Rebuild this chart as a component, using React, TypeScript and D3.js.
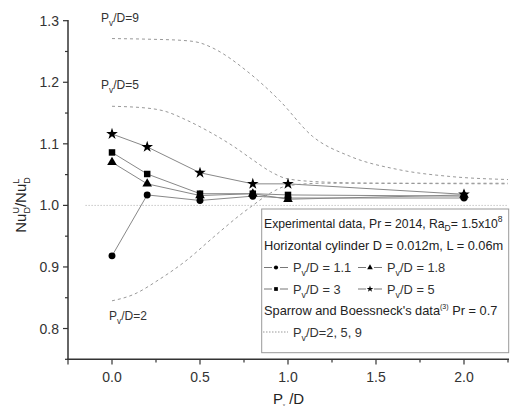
import React from 'react';
import * as d3 from 'd3';

// experimental data
const pvd = [0, 0.2, 0.5, 0.8, 1.0, 2.0];
const pv11 = [0.918, 1.017, 1.008, 1.015, 1.012, 1.012];
const pv18 = [1.070, 1.035, 1.016, 1.019, 1.010, 1.017];
const pv3 = [1.086, 1.051, 1.019, 1.019, 1.017, 1.015];
const pv5 = [1.116, 1.095, 1.053, 1.035, 1.035, 1.018];

// Sparrow and Boessneck curves
const sb9x = [0, 0.2, 0.4, 0.5, 0.57, 0.78, 0.95, 1.14, 1.35, 1.63, 1.92, 2.25];
const sb9y = [1.271, 1.270, 1.268, 1.264, 1.256, 1.215, 1.171, 1.112, 1.080, 1.058, 1.047, 1.042];
const sb5x = [0, 0.2, 0.3, 0.42, 0.55, 0.69, 0.8, 0.9, 1.0, 1.2, 1.5, 2.25];
const sb5y = [1.161, 1.158, 1.153, 1.139, 1.12, 1.096, 1.074, 1.055, 1.043, 1.038, 1.036, 1.035];
const sb2x = [0, 0.12, 0.27, 0.42, 0.575, 0.73, 0.8, 0.9, 1.0, 1.2, 1.5, 2.25];
const sb2y = [0.845, 0.855, 0.880, 0.910, 0.948, 0.985, 1.0, 1.02, 1.032, 1.036, 1.036, 1.036];

const xTicks = [0, 0.5, 1.0, 1.5, 2.0];
const xMinor = [0.25, 0.75, 1.25, 1.75, 2.25];
const yTicks = [0.8, 0.9, 1.0, 1.1, 1.2, 1.3];
const yMinor = [0.75, 0.85, 0.95, 1.05, 1.15, 1.25];

const font = 'Arial, "Liberation Sans", sans-serif';

const x = d3.scaleLinear().domain([-0.25, 2.25]).range([68, 508]);
const y = d3.scaleLinear().domain([0.75, 1.3]).range([359.3, 20.7]);

const line = d3.line<[number, number]>().x(d => x(d[0])).y(d => y(d[1]));
const curve = d3.line<[number, number]>().x(d => x(d[0])).y(d => y(d[1])).curve(d3.curveMonotoneX);

const series = [
  { label: '1.1', vals: pv11, sym: d3.symbolCircle, size: 38 },
  { label: '1.8', vals: pv18, sym: d3.symbolTriangle, size: 40 },
  { label: '3', vals: pv3, sym: d3.symbolSquare, size: 42 },
  { label: '5', vals: pv5, sym: d3.symbolStar, size: 42 },
];

const curves = [
  [sb9x, sb9y],
  [sb5x, sb5y],
  [sb2x, sb2y],
];

const Pv = ({ xx, yy, rest, size = 12 }: any) => (
  <text x={xx} y={yy} fontSize={size} fill="#333" fontFamily={font}>
    P<tspan fontSize={size * 0.7} dy={4}>v</tspan><tspan dy={-4}>{rest}</tspan>
  </text>
);

const LegendSym = ({ cx, cy, sym }: any) => (
  <g>
    <line x1={cx - 12} x2={cx - 4} y1={cy} y2={cy} stroke="#777" strokeWidth={1} />
    <line x1={cx + 4} x2={cx + 12} y1={cy} y2={cy} stroke="#777" strokeWidth={1} />
    <path d={d3.symbol().type(sym).size(14)()!} transform={`translate(${cx},${cy})`} fill="#000" />
  </g>
);

export default function App() {
  const lx = 261.7, ly = 209;
  const lf = 12.8;
  return (
    <svg width={511} height={409} style={{ position: 'absolute', left: 0, top: 0, background: '#fff' }}>
      {/* reference line at 1.0 */}
      <line x1={x(-0.15)} x2={x(2.25)} y1={y(1)} y2={y(1)} stroke="#aaa" strokeWidth={1} strokeDasharray="1,2" />

      {/* Sparrow curves */}
      {curves.map((c, i) => (
        <path key={i} d={curve(c[0].map((v, j) => [v, c[1][j]] as [number, number]))!}
          fill="none" stroke="#999" strokeWidth={1} strokeDasharray="3,3" />
      ))}

      {/* experimental lines */}
      {series.map((s, i) => (
        <path key={i} d={line(pvd.map((v, j) => [v, s.vals[j]] as [number, number]))!}
          fill="none" stroke="#888" strokeWidth={1} />
      ))}
      {series.map((s, i) => (
        <g key={i}>
          {pvd.map((v, j) => (
            <path key={j} d={d3.symbol().type(s.sym).size(s.size)()!}
              transform={`translate(${x(v)},${y(s.vals[j])})`} fill="#000" />
          ))}
        </g>
      ))}

      {/* annotations */}
      <Pv xx={101} yy={22} rest="/D=9" />
      <Pv xx={101} yy={89} rest="/D=5" />
      <Pv xx={109} yy={320} rest="/D=2" />

      {/* legend */}
      <rect x={lx} y={ly} width={247} height={143.7} fill="#fff" stroke="#999" strokeWidth={1} />
      <text x={264} y={228} fontSize={12.2} fill="#222" fontFamily={font}>
        Experimental data, Pr = 2014, Ra<tspan fontSize={8.5} dy={3}>D</tspan><tspan dy={-3}>= 1.5x10</tspan><tspan fontSize={8.5} dy={-6}>8</tspan>
      </text>
      <text x={264} y={249.5} fontSize={lf} fill="#222" fontFamily={font}>Horizontal cylinder D = 0.012m, L = 0.06m</text>
      {series.map((s, i) => {
        const cx = i % 2 === 0 ? 276 : 370;
        const cy = i < 2 ? 267.5 : 289;
        return (
          <g key={i}>
            <LegendSym cx={cx} cy={cy} sym={s.sym} />
            <Pv xx={cx + 17} yy={cy + 4.5} size={lf} rest={`/D = ${s.label}`} />
          </g>
        );
      })}
      <text x={264} y={315} fontSize={lf} fill="#222" fontFamily={font}>
        Sparrow and Boessneck's data<tspan fontSize={7} dy={-6}>(3)</tspan><tspan dy={6}> Pr = 0.7</tspan>
      </text>
      <line x1={263} x2={288} y1={332} y2={332} stroke="#999" strokeWidth={1} strokeDasharray="1.5,1.5" />
      <Pv xx={293} yy={336.5} size={lf} rest="/D=2, 5, 9" />

      {/* axes */}
      <line x1={68} x2={68} y1={20} y2={360} stroke="#333" strokeWidth={1.5} />
      <line x1={67.3} x2={509} y1={359.3} y2={359.3} stroke="#333" strokeWidth={1.5} />
      {yTicks.map(t => (
        <g key={t}>
          <line x1={63} x2={68} y1={y(t)} y2={y(t)} stroke="#333" strokeWidth={1.2} />
          <text x={59} y={y(t) + 5} textAnchor="end" fontSize={14} fill="#333" fontFamily={font}>{d3.format('.1f')(t)}</text>
        </g>
      ))}
      {yMinor.map(t => (
        <line key={t} x1={65} x2={68} y1={y(t)} y2={y(t)} stroke="#333" strokeWidth={1.2} />
      ))}
      {xTicks.map(t => (
        <g key={t}>
          <line x1={x(t)} x2={x(t)} y1={359.3} y2={364.5} stroke="#333" strokeWidth={1.2} />
          <text x={x(t)} y={381.5} textAnchor="middle" fontSize={14} fill="#333" fontFamily={font}>{d3.format('.1f')(t)}</text>
        </g>
      ))}
      {xMinor.map(t => (
        <line key={t} x1={x(t)} x2={x(t)} y1={359.3} y2={362.5} stroke="#333" strokeWidth={1.2} />
      ))}
      <line x1={68} x2={68} y1={359.3} y2={364.5} stroke="#333" strokeWidth={1.2} />

      {/* axis titles */}
      <text x={273} y={404} fontSize={15} fill="#222" fontFamily={font}>
        P<tspan fontSize={4} dy={2}>v</tspan><tspan dy={-2}> /D</tspan>
      </text>
      <text transform="translate(26,205) rotate(-90)" textAnchor="middle" fontSize={15} fill="#222" fontFamily={font}>
        Nu<tspan fontSize={9} dy={-7}>U</tspan><tspan fontSize={9} dx={-6.5} dy={11}>D</tspan><tspan dy={-4}>/Nu</tspan><tspan fontSize={9} dy={-7}>L</tspan><tspan fontSize={9} dx={-5} dy={11}>D</tspan>
      </text>
    </svg>
  );
}
